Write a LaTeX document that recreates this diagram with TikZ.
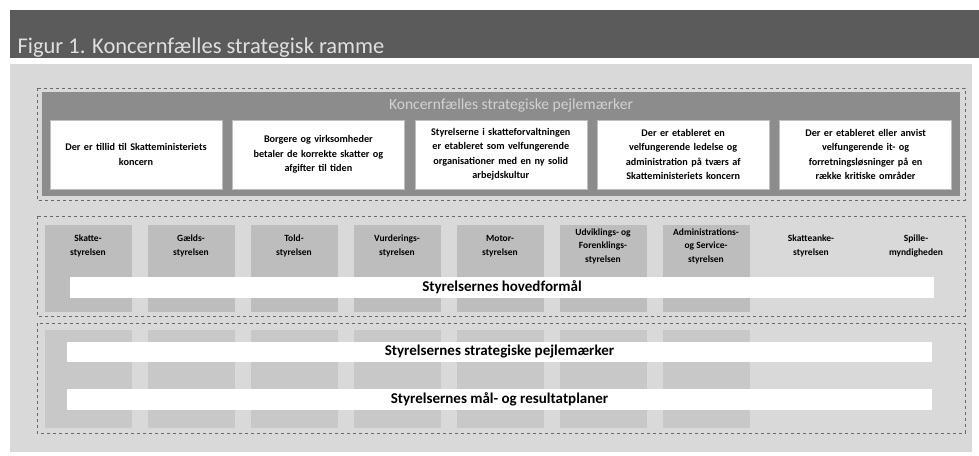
\documentclass[tikz,border=0pt]{standalone}
\usepackage{fontspec}
\setmainfont{Carlito}
\usepackage{tikz}
\usetikzlibrary{positioning}

\definecolor{titlegray}{HTML}{5B5B5B}
\definecolor{panelgray}{HTML}{D9D9D9}
\definecolor{framegray}{HTML}{8C8C8C}
\definecolor{tilegray}{HTML}{BDBDBD}
\definecolor{tilelight}{HTML}{C8C8C8}
\definecolor{dashgray}{HTML}{6A6A6A}

\begin{document}
\begin{tikzpicture}[x=1pt, y=-1pt,
	dashbox/.style={draw=dashgray, dashed, line width=0.6pt},
	goal/.style={fill=white, draw=gray!50, align=center, text width=166pt, inner xsep=3pt,
		minimum height=69pt, font=\bfseries\fontsize{10.2}{14.5}\selectfont},
	agency/.style={align=center, font=\bfseries\fontsize{9.5}{13.5}\selectfont},
	tile/.style={fill=tilegray, minimum width=87pt, inner sep=0pt},
	bar/.style={fill=white, inner sep=0pt, font=\bfseries\fontsize{15}{17}\selectfont}]
	\useasboundingbox (0,0) rectangle (979,455);
	\fill[white] (0,0) rectangle (979,455);
	
	\fill[titlegray] (10,10) rectangle (979,58);
	\node[anchor=base west, text=gray!25, font=\fontsize{22.5}{24}\selectfont] (title) at (14,53) {Figur 1. Koncernfælles strategisk ramme};
	\fill[panelgray] (10,64) rectangle (972,452);
	
	\draw[dashbox] (37,88) rectangle (965,200);
	\fill[framegray] (42,92) rectangle (960,196);
	\node[text=gray!35, font=\fontsize{15.5}{17}\selectfont] (pejl) at (511,105) {Koncernfælles strategiske pejlemærker};
	\node[goal] (g1) at (136,154.5) {Der er tillid til Skatteministeriets\\koncern};
	\node[goal, right=10pt of g1] (g2) {Borgere og virksomheder\\betaler de korrekte skatter og\\afgifter til tiden};
	\node[goal, right=10pt of g2] (g3) {Styrelserne i skatteforvaltningen\\er etableret som velfungerende\\organisationer med en ny solid\\arbejdskultur};
	\node[goal, right=10pt of g3] (g4) {Der er etableret en\\velfungerende ledelse og\\administration på tværs af\\Skatteministeriets koncern};
	\node[goal, right=10pt of g4] (g5) {Der er etableret eller anvist\\velfungerende it- og\\forretningsløsninger på en\\række kritiske områder};
	
	\draw[dashbox] (37,216) rectangle (965,316);
	\draw[dashbox] (37,323) rectangle (965,433);
	\foreach \i in {1,...,7}{
		\node[tile, minimum height=87pt] (t\i) at ({88+103*(\i-1)},268.5) {};
		\node[tile, fill=tilelight, minimum height=98pt] (u\i) at ({88+103*(\i-1)},379) {};
	}
	\foreach \x/\txt [count=\i] in {88/{Skatte-\\styrelsen}, 191/{Gælds-\\styrelsen}, 294/{Told-\\styrelsen},
		397/{Vurderings-\\styrelsen}, 500/{Motor-\\styrelsen}, 603/{Udviklings- og\\Forenklings-\\styrelsen},
		706/{Administrations-\\og Service-\\styrelsen}, 811/{Skatteanke-\\styrelsen}, 916/{Spille-\\myndigheden}}{
		\node[agency] (a\i) at (\x,246) {\txt};
	}
	
	\node[bar, minimum width=864pt, minimum height=21pt] (hoved) at (502,287.5) {Styrelsernes hovedformål};
	\node[bar, minimum width=865pt, minimum height=20pt] (strat) at (499.5,352) {Styrelsernes strategiske pejlemærker};
	\node[bar, minimum width=865pt, minimum height=21pt] (plan) at (499.5,399.5) {Styrelsernes mål- og resultatplaner};
\end{tikzpicture}
\end{document}
